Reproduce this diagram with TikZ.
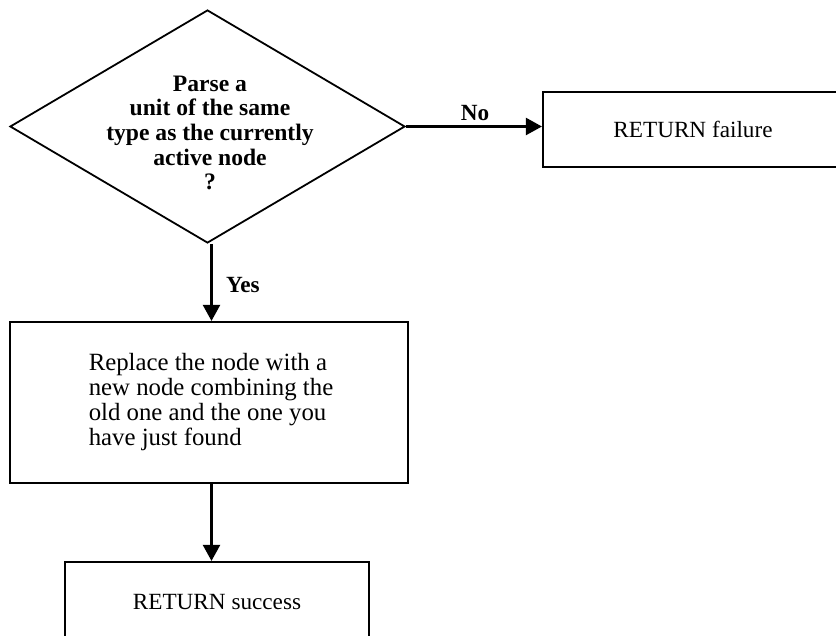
\documentclass[tikz,border=0pt]{standalone}
\usepackage{fontspec}
\setmainfont{Liberation Serif}
\usetikzlibrary{shapes.geometric,arrows.meta}
\tikzset{
  box/.style={draw, line width=1.1pt, inner sep=0pt},
  decision/.style={draw, diamond, line width=0.9pt, inner sep=0pt},
  flow/.style={line width=1.2pt, -{Triangle[length=8pt,width=8.5pt]}},
  bodytext/.style={font=\fontsize{11.6}{12.5}\selectfont},
  reptextstyle/.style={font=\fontsize{12.4}{12.5}\selectfont, align=left},
  boldtext/.style={font=\fontsize{11.8}{12.3}\selectfont\bfseries, align=center},
  lbltext/.style={font=\fontsize{11.6}{12.5}\selectfont\bfseries},
}
\begin{document}
\begin{tikzpicture}[x=0.5pt,y=-0.5pt]
\useasboundingbox (0,0) rectangle (836,636);
\clip (0,0) rectangle (836,636);
% decision
\node[decision, minimum width=197.5pt, minimum height=116.5pt] (dec) at (207.5,126.5) {};
\node[boldtext] (dectext) at (210,133) {Parse a\\unit of the same\\type as the currently\\active node\\?};
% failure box
\node[box, minimum width=150pt, minimum height=37.5pt, bodytext] (fail) at (693,129.5) {RETURN failure};
% replace box
\node[box, minimum width=199pt, minimum height=80.5pt] (rep) at (209,402.5) {};
\node[reptextstyle] (reptext) at (211,402.5) {Replace the node with a\\new node combining the\\old one and the one you\\have just found};
% success box
\node[box, minimum width=152pt, minimum height=40pt, bodytext] (succ) at (217,602) {RETURN success};
% connectors
\draw[flow] (dec.east) -- (dec.east -| fail.west);
\draw[flow] ([xshift=2pt]dec.south) -- ([xshift=2pt]dec.south |- rep.north);
\draw[flow] ([xshift=2pt]dec.south |- rep.south) -- ([xshift=2pt]dec.south |- succ.north);
% labels
\node[lbltext] (nolbl) at (475,113) {No};
\node[lbltext, anchor=west] (yeslbl) at (219,285) {Yes};
\end{tikzpicture}
\end{document}
